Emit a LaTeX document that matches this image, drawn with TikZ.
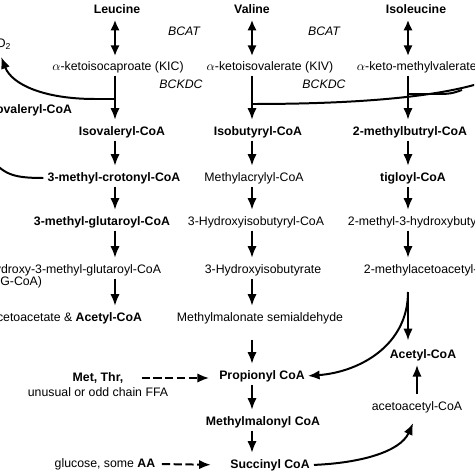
\documentclass[tikz,border=0pt]{standalone}
\usepackage{fontspec}
\setmainfont{Liberation Sans}
\usetikzlibrary{arrows.meta}

\begin{document}
\begin{tikzpicture}[x=0.03cm, y=-0.03cm,
    every node/.style={font=\fontsize{10.5}{12}\selectfont, inner sep=1.5pt, text height=7.5pt, text depth=2pt},
    bld/.style={font=\fontsize{10.5}{12}\selectfont\bfseries},
    enz/.style={font=\fontsize{10.5}{12}\selectfont\itshape},
    lin/.style={line width=1.7pt},
    arr/.style={line width=1.7pt, -{Latex[length=10pt,width=8pt]}, shorten <=1pt, shorten >=4pt},
    dbl/.style={line width=1.7pt, {Latex[length=9pt,width=8pt]}-{Latex[length=9pt,width=8pt]}, shorten <=2pt, shorten >=3pt},
    dsh/.style={line width=1.7pt, dash pattern=on 7pt off 3pt, -{Latex[length=10pt,width=8pt]}}]
    \useasboundingbox (0,0) rectangle (474,474);
    \clip (0,0) rectangle (474,474);

    \coordinate (c1) at (115,0);
    \coordinate (c2) at (252,0);
    \coordinate (c3) at (408,0);

    % amino acids and keto acids
    \node[bld] (leu) at (117,10) {Leucine};
    \node[bld] (val) at (252,10) {Valine};
    \node[bld] (ile) at (416,10) {Isoleucine};
    \node[enz] (bcat1) at (184,32) {BCAT};
    \node[enz] (bcat2) at (324,32) {BCAT};
    \node (kic) at (118,67) {$\alpha$-ketoisocaproate (KIC)};
    \node (kiv) at (270,67) {$\alpha$-ketoisovalerate (KIV)};
    \node[anchor=west] (kmv) at (355,67) {$\alpha$-keto-methylvalerate};
    \node[enz] (bckdc1) at (181,85) {BCKDC};
    \node[enz] (bckdc2) at (324,85) {BCKDC};
    \node[anchor=east] (co2) at (13,44) {CO\textsubscript{2}};
    \node[bld, anchor=east] (isovx) at (74,110) {Isovaleryl-CoA};

    % leucine column
    \node[bld] (isoval) at (122,132) {Isovaleryl-CoA};
    \node[bld] (mcc) at (114,178) {3-methyl-crotonyl-CoA};
    \node[bld] (mgc) at (102,222) {3-methyl-glutaroyl-CoA};
    \node[anchor=east] (hmg) at (163,270) {3-hydroxy-3-methyl-glutaroyl-CoA};
    \node[anchor=north west] (hmgab) at ([yshift=2pt]hmg.south west) {(HMG-CoA)};
    \node[anchor=east] (aca) at (144,318) {acetoacetate \& \textbf{Acetyl-CoA}};

    % valine column
    \node[bld] (ibc) at (258,132) {Isobutyryl-CoA};
    \node (mac) at (254,178) {Methylacrylyl-CoA};
    \node (hibc) at (256,222) {3-Hydroxyisobutyryl-CoA};
    \node (hib) at (263,270) {3-Hydroxyisobutyrate};
    \node (mmsa) at (260,318) {Methylmalonate semialdehyde};
    \node[bld] (prop) at (262,376) {Propionyl CoA};
    \node[bld] (mmc) at (263,422) {Methylmalonyl CoA};
    \node[bld] (succ) at (270,465) {Succinyl CoA};

    % isoleucine column
    \node[bld] (mbc) at (410,132) {2-methylbutryl-CoA};
    \node[bld] (tig) at (413,178) {tigloyl-CoA};
    \node[anchor=west] (mhbc) at (346,222) {2-methyl-3-hydroxybutyryl-CoA};
    \node[anchor=west] (maac) at (362,270) {2-methylacetoacetyl-CoA};
    \node[bld] (acoa) at (423,355) {Acetyl-CoA};
    \node (aacoa) at (417,407) {acetoacetyl-CoA};

    % other sources
    \node[bld] (metthr) at (98,378) {Met, Thr,};
    \node (ffa) at (98,393) {unusual or odd chain FFA};
    \node (gluc) at (105,464) {glucose, some \textbf{AA}};

    \draw[dbl] (leu.south -| c1) -- (kic.north -| c1);
    \draw[dbl] (val.south -| c2) -- (kiv.north -| c2);
    \draw[dbl] (ile.south -| c3) -- (kmv.north -| c3);

    \draw[arr] (kic.south -| c1) -- (isoval.north -| c1);
    \draw[arr] (isoval.south -| c1) -- (mcc.north -| c1);
    \draw[arr] (mcc.south -| c1) -- (mgc.north -| c1);
    \draw[arr] (mgc.south -| c1) -- (hmg.north -| c1);
    \draw[arr] (hmg.south -| c1) -- (aca.north -| c1);

    \draw[arr] (kiv.south -| c2) -- (ibc.north -| c2);
    \draw[arr] (ibc.south -| c2) -- (mac.north -| c2);
    \draw[arr] (mac.south -| c2) -- (hibc.north -| c2);
    \draw[arr] (hibc.south -| c2) -- (hib.north -| c2);
    \draw[arr] (hib.south -| c2) -- (mmsa.north -| c2);
    \draw[arr, shorten <=12pt] (mmsa.south -| c2) -- (prop.north -| c2);
    \draw[arr] (prop.south -| c2) -- (mmc.north -| c2);
    \draw[arr] (mmc.south -| c2) -- (succ.north -| c2);

    \draw[arr] (kmv.south -| c3) -- (mbc.north -| c3);
    \draw[arr] (mbc.south -| c3) -- (tig.north -| c3);
    \draw[arr] (tig.south -| c3) -- (mhbc.north -| c3);
    \draw[arr] (mhbc.south -| c3) -- (maac.north -| c3);
    \coordinate (b3) at (408,292);
    \draw[arr, shorten >=6pt] (b3) -- (acoa.north -| b3);
    \draw[arr, shorten <=5pt, shorten >=2pt] (aacoa.north) -- (aacoa.north |- acoa.south);

    % side branches
    \coordinate (b1) at (115,99);
    \draw[arr, shorten <=0pt, shorten >=5pt] (b1) -- (95,99) .. controls (45,99) and (12,85) .. (co2.south);
    \draw[lin] ([xshift=-2pt]mcc.west) .. controls (15,178) and (5,175) .. (-8,160);
    \coordinate (b2) at (252,104);
    \draw[lin] (b2) .. controls (350,104) and (440,98) .. (490,80);
    \coordinate (b4) at (408,94);
    \draw[lin] (b4) -- (440,94) .. controls (452,94) and (456,92) .. (462,90);
    \draw[arr, shorten <=0pt, shorten >=1pt] (b3) .. controls (408,345) and (360,372) .. (prop.east);
    \draw[arr, shorten <=2pt, shorten >=8pt] (succ.east) .. controls (360,463) and (400,452) .. (aacoa.south);

    \draw[dsh, shorten <=14pt, shorten >=7pt] (metthr.east) -- (metthr.east -| prop.west);
    \draw[dsh, shorten <=4pt, shorten >=15pt] (gluc.east) -- (succ.west);
\end{tikzpicture}
\end{document}
